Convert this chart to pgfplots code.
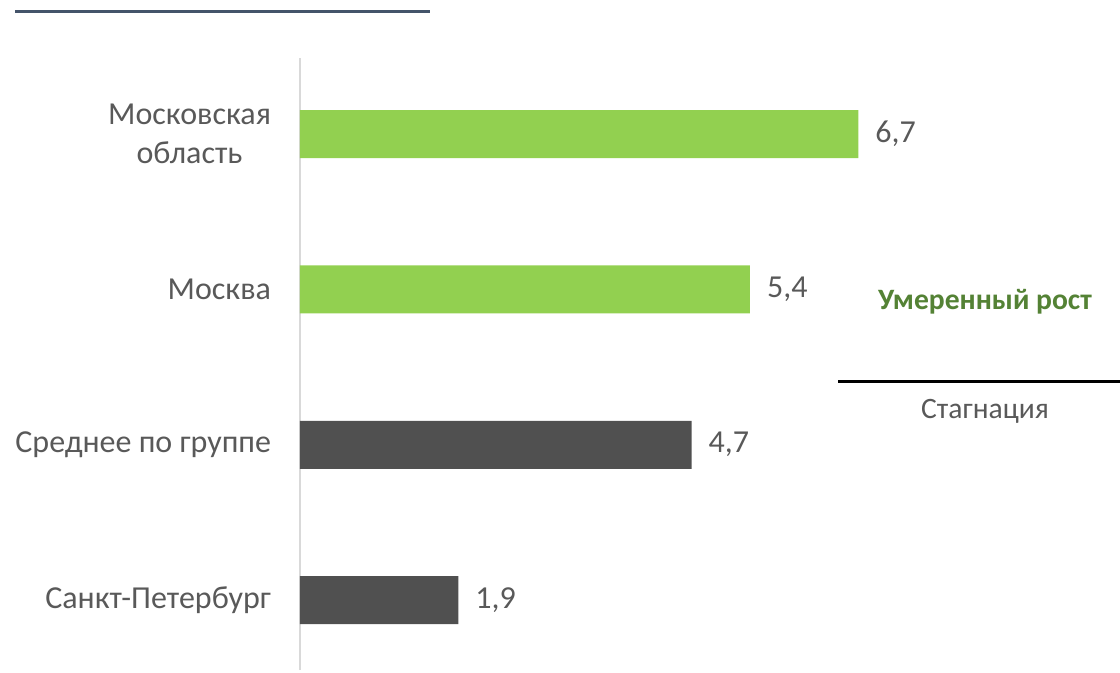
\documentclass[border=0pt]{standalone}
\usepackage{fontspec}
\setmainfont{Carlito}
\usepackage{pgfplots}
\pgfplotsset{compat=1.18}
\definecolor{barGreen}{HTML}{92D050}
\definecolor{barGrey}{HTML}{505050}
\definecolor{txtGrey}{HTML}{595959}
\definecolor{txtGreen}{HTML}{548235}
\definecolor{slate}{HTML}{44546A}
\definecolor{axGrey}{HTML}{D9D9D9}

\begin{document}
\begin{tikzpicture}[x=0.5pt,y=-0.5pt]
% page frame, 1120x673 px at 0.5pt per px
\path[use as bounding box] (0,0) rectangle (1120,673);
\draw[slate, line width=1.5pt] (15,12) -- (430,12);

\begin{axis}[
  at={(150pt,-335pt)}, anchor=south west,
  scale only axis,
  width=400pt, height=306pt,
  xbar, bar width=24pt, bar shift=0pt,
  xmin=0, xmax=9.6,
  ymin=-0.45, ymax=3.49,
  axis x line=none,
  axis y line=left,
  axis line style={axGrey, line width=1pt, -},
  ytick={0,1,2,3},
  yticklabels={Санкт-Петербург, Среднее по группе, Москва, {Московская\\область}},
  yticklabel style={align=center, font=\fontsize{16}{19.5}\selectfont, text=txtGrey, xshift=-11pt},
  major tick length=0pt,
  nodes near coords,
  nodes near coords style={font=\fontsize{16}{19.5}\selectfont, text=txtGrey, xshift=5pt},
  /pgf/number format/.cd, fixed, precision=1, fixed zerofill, use comma, assume math mode=true,
]
\addplot[fill=barGreen, draw=none] coordinates {(6.7,3) (5.4,2)};
\addplot[fill=barGrey, draw=none] coordinates {(4.7,1) (1.9,0)};
\end{axis}

\node[text=txtGreen, font=\bfseries\fontsize{14.8}{17}\selectfont] at (985,302) {Умеренный рост};
\draw[black, line width=1.5pt] (838,382) -- (1120,382);
\node[text=txtGrey, font=\fontsize{14.8}{17}\selectfont] at (985,411) {Стагнация};
\end{tikzpicture}
\end{document}
